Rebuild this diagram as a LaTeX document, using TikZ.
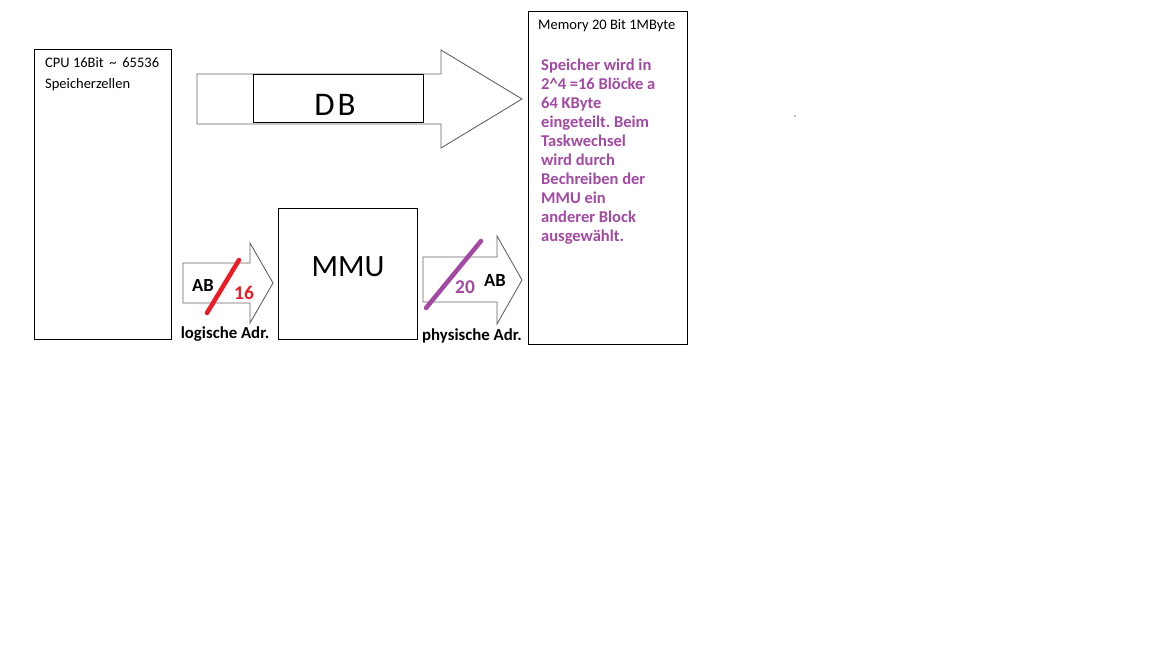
\documentclass[tikz,border=0pt]{standalone}
\usepackage{fontspec}
\setmainfont{Carlito}
\usepackage{xcolor}
\frenchspacing

\definecolor{lila}{RGB}{163,73,164}
\definecolor{rot}{RGB}{237,28,36}
\definecolor{pfeilgrau}{RGB}{100,100,100}

\tikzset{
	box/.style={draw, line width=0.8pt, inner sep=0pt},
	bus/.style={draw=pfeilgrau, line width=0.9pt, fill=white, line join=miter},
	strich/.style={line width=4.5pt, line cap=round},
	normal/.style={font=\fontsize{14.5}{17}\selectfont, inner sep=0pt, anchor=base west},
	fett/.style={font=\fontsize{16.8}{19}\selectfont\bfseries, inner sep=0pt, anchor=base},
}

\begin{document}
\begin{tikzpicture}[x=1pt,y=-1pt]
	\useasboundingbox (0,0) rectangle (1152,648);

	% Bausteine
	\node[box, minimum width=137pt, minimum height=290pt] (cpu) at (102.5,194) {};
	\node[box, minimum width=139pt, minimum height=131pt] (mmu) at (347.5,273.5) {};
	\node[box, minimum width=159pt, minimum height=333pt] (mem) at (607.5,177.5) {};

	\node[normal] (cpu1) at (45,67) {CPU 16Bit \,\textasciitilde\, 65536};
	\node[normal] (cpu2) at (45,88) {Speicherzellen};
	\node[normal] (memtitel) at (538,29) {Memory 20 Bit 1MByte};
	\node[font=\fontsize{31}{34}\selectfont, inner sep=0pt] (mmutext) at (348,267) {MMU};

	% Datenbus
	\draw[bus] (197,74) -- (441,74) -- (441,50) -- (522,99) -- (441,148) -- (441,124) -- (197,124) -- cycle;
	\node[box, fill=white, minimum width=170pt, minimum height=48pt] (db) at (338,98) {};
	\node[font=\fontsize{33}{36}\selectfont, inner sep=0pt, anchor=base] (dbtext) at (335,115) {D\kern3pt B};

	% Adressbus logisch
	\draw[bus] (183,263) -- (250,263) -- (250,243) -- (273,283) -- (250,323) -- (250,303) -- (183,303) -- cycle;
	\node[fett, font=\fontsize{18.5}{20}\selectfont\bfseries] (ab1) at (203,291) {AB};
	\coordinate (r1) at (207,313);
	\coordinate (r2) at (239,260);
	\draw[strich, rot] (r1) -- (r2);
	\node[fett, text=rot, font=\fontsize{19.5}{20}\selectfont\bfseries] (b16) at (244,299) {16};
	\node[fett] (logadr) at (225,338) {logische Adr.};

	% Adressbus physisch
	\draw[bus] (423,257) -- (497,257) -- (497,236) -- (522,280) -- (497,324) -- (497,302) -- (423,302) -- cycle;
	\coordinate (p1) at (426,308);
	\coordinate (p2) at (481,241);
	\draw[strich, lila] (p1) -- (p2);
	\node[fett, text=lila, font=\fontsize{19.5}{20}\selectfont\bfseries] (b20) at (465,293) {20};
	\node[fett, font=\fontsize{18.5}{20}\selectfont\bfseries] (ab2) at (495,286) {AB};
	\node[fett] (physadr) at (472,340) {physische Adr.};

	% Erklaerung im Speicher
	\foreach \zeile [count=\i] in {Speicher wird in, 2\textasciicircum4 =16 Blöcke a, 64 KByte, eingeteilt. Beim, Taskwechsel, wird durch, Bechreiben der, MMU ein, anderer Block, ausgewählt.}
		\node[normal, text=lila, font=\fontsize{16.5}{19}\selectfont\bfseries] (text\i) at (541,70+19*\i-19) {\zeile};

	\fill (795,116) circle (0.7pt);
\end{tikzpicture}
\end{document}
